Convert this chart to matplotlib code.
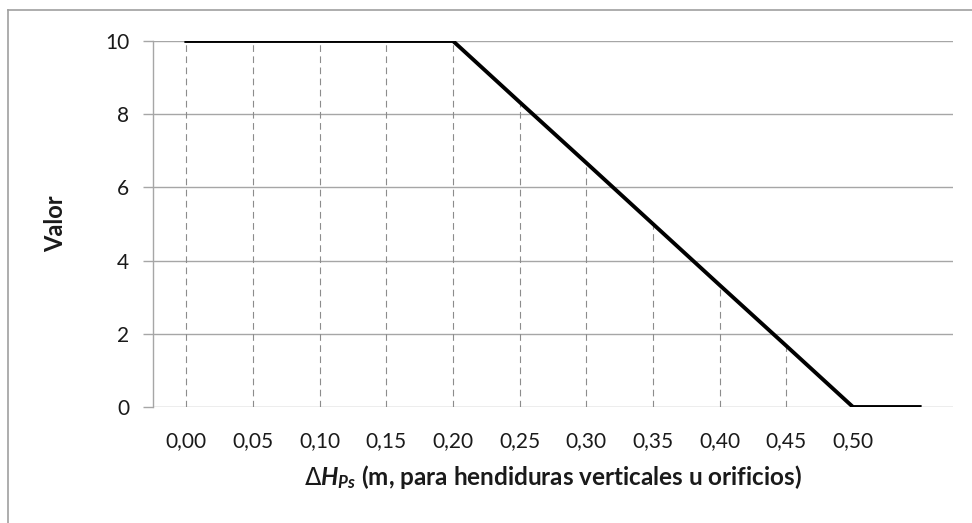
import matplotlib
matplotlib.use("Agg")
import matplotlib.pyplot as plt
from matplotlib.lines import Line2D

# data
categorias = ["0,00", "0,05", "0,10", "0,15", "0,20", "0,25",
              "0,30", "0,35", "0,40", "0,45", "0,50", ""]
valores = [10, 10, 10, 10, 10, 8.33, 6.67, 5.0, 3.33, 1.67, 0, 0]
y_ticks = [0, 2, 4, 6, 8, 10]

plt.rcParams['font.family'] = ['Lato', 'DejaVu Sans']
plt.rcParams['mathtext.fontset'] = 'custom'
plt.rcParams['mathtext.it'] = 'Lato:italic:bold'
plt.rcParams['mathtext.rm'] = 'DejaVu Sans'
plt.rcParams['mathtext.bf'] = 'Lato:bold'

fig = plt.figure(figsize=(9.72, 5.23), dpi=100)
W, H = 972, 523
ax = fig.add_axes([153 / W, 1 - 407 / H, 800 / W, 366 / H])

xs = list(range(len(valores)))
grid_c = '#a6a6a6'
txt_c = '#1a1a1a'

for yv in y_ticks:
    ax.axhline(yv, color=grid_c, lw=1.0, zorder=1)

# drop lines
ax.vlines(xs, 0, valores, colors='#8c8c8c', lw=0.8,
          linestyles=(0, (6, 4)), zorder=2)

ax.plot(xs, valores, color='black', lw=2.8, zorder=3,
        solid_joinstyle='miter')

ax.set_xlim(-0.5, len(valores) - 0.5)
ax.set_ylim(0, 10)
ax.set_yticks(y_ticks)
ax.set_yticklabels([str(v) for v in y_ticks])
ax.set_xticks(xs)
ax.set_xticklabels(categorias)

for s in ['top', 'right', 'bottom']:
    ax.spines[s].set_visible(False)
ax.spines['left'].set_color(grid_c)
ax.spines['left'].set_linewidth(1.0)

ax.tick_params(axis='y', length=7, width=1.0, color=grid_c, pad=10,
               labelsize=15, labelcolor=txt_c)
ax.tick_params(axis='x', length=0, pad=17, labelsize=15,
               labelcolor=txt_c)

ax.set_ylabel('Valor', fontsize=17, fontweight='bold', color=txt_c)
ax.yaxis.set_label_coords((67 - 153) / 800, 0.5)
ax.set_xlabel(r'$\Delta H_{Ps}$ (m, para hendiduras verticales u orificios)',
              fontsize=17.5, fontweight='bold', color=txt_c)
ax.xaxis.set_label_coords(0.5, -(477 - 407) / 366)
ax.xaxis.label.set_va('center')

# outer chart border (cropped at right/bottom)
bc = '#a0a0a0'
fig.add_artist(Line2D([8 / W, 8 / W], [0, 1 - 10 / H], color=bc, lw=1.2))
fig.add_artist(Line2D([8 / W, 1], [1 - 10 / H, 1 - 10 / H], color=bc, lw=1.2))

fig.savefig('out.png', dpi=100)
